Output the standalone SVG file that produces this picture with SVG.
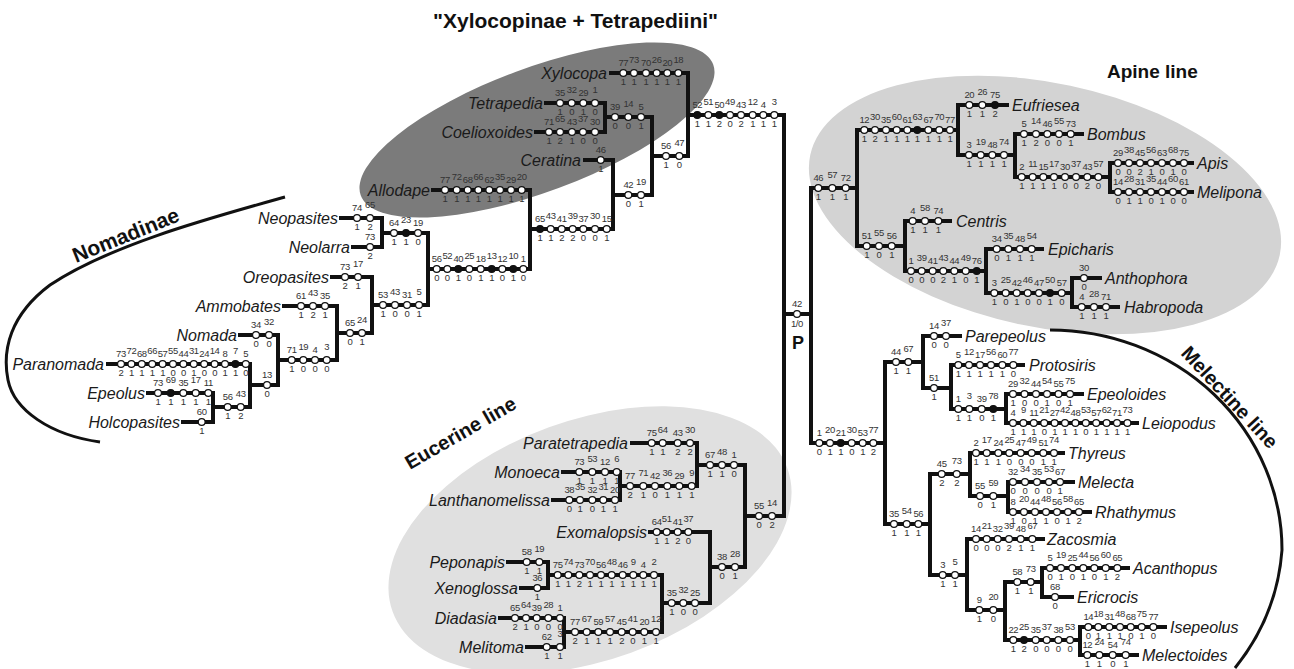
<svg xmlns="http://www.w3.org/2000/svg" width="1294" height="669" viewBox="0 0 1294 669">
<style>
.ln{fill:none;stroke:#111;stroke-width:4;stroke-linecap:square}
.arc{fill:none;stroke:#111;stroke-width:3}
circle{fill:#fff;stroke:#111;stroke-width:1.2}
circle.k{fill:#111}
text{font-family:"Liberation Sans",Arial,sans-serif}
.n{font-size:9.5px;fill:#333;text-anchor:middle;letter-spacing:-0.4px}
.sp{font-size:16px;font-style:italic;fill:#1a1a1a}
.e{text-anchor:end}
.h{font-weight:bold;fill:#111}
</style>
<rect width="1294" height="669" fill="#fff"/>
<g id="groupings">
<ellipse cx="537" cy="130" rx="188" ry="62" transform="rotate(-20.4 537 130)" fill="#7b7b7b"/>
<ellipse cx="1045" cy="205" rx="240" ry="122" transform="rotate(12 1045 205)" fill="#d3d3d3"/>
<ellipse cx="590" cy="540" rx="210" ry="120" transform="rotate(-20 590 540)" fill="#e0e0e0"/>
<path class="arc" d="M285,197 C210,218 110,245 50,285 C10,315 2,350 8,380 C14,410 50,435 100,442"/>
<path class="arc" d="M1050,330 A232,220 0 0 1 1282,550 A232,220 0 0 1 1235,668"/>
<text class="h" x="433" y="28" font-size="21">"Xylocopinae + Tetrapediini"</text>
<text class="h" x="1107" y="78" font-size="19">Apine line</text>
<text class="h" font-size="21" transform="translate(76 263) rotate(-22)">Nomadinae</text>
<text class="h" font-size="20" transform="translate(410 470) rotate(-30)">Eucerine line</text>
<text class="h" font-size="20" transform="translate(1180 354) rotate(47)">Melectine line</text>
</g>
<g id="connectors">
<path class="ln" d="M108 364H250M148 393H213M183 422H213M213 393V422M213 407H250M250 364V407M250 385H278M240 335H278M278 335V385M278 360H337M284 306H337M337 306V360M337 333H372M332 277H372M372 277V333M372 305H428M341 218H382M353 247H382M382 218V247M382 233H428M428 233V305M428 269H530M433 190H530M530 190V269M530 229H613M585 160H613M613 160V229M613 195H652M546 103H605M536 132H605M605 103V132M605 117H652M652 117V195M652 156H688M611 73H688M688 73V156M688 115H784M784 115V516M784 314H811M811 188V443"/>
<path class="ln" d="M632 443H697M563 472H620M553 500H620M620 472V500M620 486H697M697 443V486M697 465H745M650 532H710M508 562H548M521 588H548M548 562V588M548 575H662M500 618H564M527 647H564M564 618V647M564 632H662M662 575V632M662 603H710M710 532V603M710 567H745M745 465V567M745 516H784"/>
<path class="ln" d="M811 188H857M857 130V246M857 130H958M958 105V155M958 105H1007M958 155H1015M1015 134V177M1015 134H1082M1015 177H1110M1110 163V192M1110 163H1192M1110 192H1192M857 246H905M905 221V271M905 221H950M905 271H986M986 249V293M986 249H1042M986 293H1072M1072 278V307M1072 278H1100M1072 307H1118"/>
<path class="ln" d="M811 443H885M885 362V524M885 362H923M923 336V388M923 336H960M923 388H951M951 365V409M951 365H1023M951 409H1006M1006 394V423M1006 394H1082M1006 423H1137M885 524H930M930 474V575M930 474H970M970 453V496M970 453H1063M970 496H1008M1008 482V512M1008 482H1073M1008 512H1090M930 575H967M967 539V610M967 539H1043M967 610H1005M1005 582V640M1005 582H1042M1042 568V597M1042 568H1128M1042 597H1072M1005 640H1080M1080 627V655M1080 627H1165M1080 655H1137"/>
</g>
<g id="t-neopasites"><text class="sp e" x="338" y="224">Neopasites</text><circle cx="357" cy="218" r="3.4"/><circle cx="370" cy="218" r="3.4"/><text class="n" x="357" y="211">74</text><text class="n" x="370" y="208">65</text><text class="n" x="357 370" y="230">12</text></g>
<g id="t-neolarra"><text class="sp e" x="350" y="253">Neolarra</text><circle cx="370" cy="247" r="3.4"/><text class="n" x="370" y="240">73</text><text class="n" x="370" y="259">2</text></g>
<g id="i-64-23-19"><circle cx="394" cy="233" r="3.4"/><circle class="k" cx="406" cy="233" r="3.4"/><circle cx="418" cy="233" r="3.4"/><text class="n" y="226"><tspan x="394">64</tspan><tspan x="418">19</tspan></text><text class="n" x="406" y="223">23</text><text class="n" x="394 406 418" y="245">110</text></g>
<g id="t-oreopasites"><text class="sp e" x="329" y="283">Oreopasites</text><circle cx="345" cy="277" r="3.4"/><circle cx="358" cy="277" r="3.4"/><text class="n" x="345" y="270">73</text><text class="n" x="358" y="267">17</text><text class="n" x="345 358" y="289">21</text></g>
<g id="t-ammobates"><text class="sp e" x="281" y="312">Ammobates</text><circle cx="301" cy="306" r="3.4"/><circle cx="313" cy="306" r="3.4"/><circle cx="325" cy="306" r="3.4"/><text class="n" y="299"><tspan x="301">61</tspan><tspan x="325">35</tspan></text><text class="n" x="313" y="296">43</text><text class="n" x="301 313 325" y="318">121</text></g>
<g id="t-nomada"><text class="sp e" x="237" y="341">Nomada</text><circle cx="256" cy="335" r="3.4"/><circle cx="269" cy="335" r="3.4"/><text class="n" x="256" y="328">34</text><text class="n" x="269" y="325">32</text><text class="n" x="256 269" y="347">00</text></g>
<g id="t-paranomada"><text class="sp e" x="104" y="370">Paranomada</text><circle cx="121" cy="364" r="3.4"/><circle cx="131.4" cy="364" r="3.4"/><circle cx="141.8" cy="364" r="3.4"/><circle cx="152.2" cy="364" r="3.4"/><circle cx="162.6" cy="364" r="3.4"/><circle cx="173" cy="364" r="3.4"/><circle cx="183.4" cy="364" r="3.4"/><circle cx="193.8" cy="364" r="3.4"/><circle cx="204.2" cy="364" r="3.4"/><circle cx="214.6" cy="364" r="3.4"/><circle cx="225" cy="364" r="3.4"/><circle class="k" cx="235.4" cy="364" r="3.4"/><circle cx="245.8" cy="364" r="3.4"/><text class="n" y="357"><tspan x="121">73</tspan><tspan x="141.8">68</tspan><tspan x="162.6">57</tspan><tspan x="183.4">44</tspan><tspan x="204.2">24</tspan><tspan x="225">8</tspan><tspan x="245.8">5</tspan></text><text class="n" y="354"><tspan x="131.4">72</tspan><tspan x="152.2">66</tspan><tspan x="173">55</tspan><tspan x="193.8">31</tspan><tspan x="214.6">14</tspan><tspan x="235.4">7</tspan></text><text class="n" x="121 131.4 141.8 152.2 162.6 173 183.4 193.8 204.2 214.6 225 235.4 245.8" y="376">2111100100110</text></g>
<g id="i-13"><circle cx="267" cy="385" r="3.4"/><text class="n" x="267" y="378">13</text><text class="n" x="267" y="397">0</text></g>
<g id="t-epeolus"><text class="sp e" x="145" y="399">Epeolus</text><circle cx="158" cy="393" r="3.4"/><circle class="k" cx="170.7" cy="393" r="3.4"/><circle cx="183.3" cy="393" r="3.4"/><circle cx="195.7" cy="393" r="3.4"/><circle cx="208.3" cy="393" r="3.4"/><text class="n" y="386"><tspan x="158">73</tspan><tspan x="183.3">35</tspan><tspan x="208.3">11</tspan></text><text class="n" y="383"><tspan x="170.7">69</tspan><tspan x="195.7">17</tspan></text><text class="n" x="158 170.7 183.3 195.7 208.3" y="405">11111</text></g>
<g id="t-holcopasites"><text class="sp e" x="180" y="428">Holcopasites</text><circle cx="201.7" cy="422" r="3.4"/><text class="n" x="201.7" y="415">60</text><text class="n" x="201.7" y="434">1</text></g>
<g id="i-56-43"><circle cx="227.7" cy="407" r="3.4"/><circle cx="240.7" cy="407" r="3.4"/><text class="n" x="227.7" y="400">56</text><text class="n" x="240.7" y="397">43</text><text class="n" x="227.7 240.7" y="419">12</text></g>
<g id="i-71-19-4-3"><circle cx="291.7" cy="360" r="3.4"/><circle cx="303.3" cy="360" r="3.4"/><circle cx="315" cy="360" r="3.4"/><circle cx="326.7" cy="360" r="3.4"/><text class="n" y="353"><tspan x="291.7">71</tspan><tspan x="315">4</tspan></text><text class="n" y="350"><tspan x="303.3">19</tspan><tspan x="326.7">3</tspan></text><text class="n" x="291.7 303.3 315 326.7" y="372">1000</text></g>
<g id="i-65-24"><circle cx="350" cy="333" r="3.4"/><circle cx="362" cy="333" r="3.4"/><text class="n" x="350" y="326">65</text><text class="n" x="362" y="323">24</text><text class="n" x="350 362" y="345">01</text></g>
<g id="i-53-43-31-5"><circle cx="383" cy="305" r="3.4"/><circle cx="395" cy="305" r="3.4"/><circle cx="407" cy="305" r="3.4"/><circle cx="419" cy="305" r="3.4"/><text class="n" y="298"><tspan x="383">53</tspan><tspan x="407">31</tspan></text><text class="n" y="295"><tspan x="395">43</tspan><tspan x="419">5</tspan></text><text class="n" x="383 395 407 419" y="317">1001</text></g>
<g id="i-56-52-40"><circle cx="436.7" cy="269" r="3.4"/><circle cx="447.3" cy="269" r="3.4"/><circle class="k" cx="458.3" cy="269" r="3.4"/><circle cx="469.3" cy="269" r="3.4"/><circle cx="480.7" cy="269" r="3.4"/><circle class="k" cx="491.7" cy="269" r="3.4"/><circle cx="502.3" cy="269" r="3.4"/><circle class="k" cx="513.3" cy="269" r="3.4"/><circle cx="523.3" cy="269" r="3.4"/><text class="n" y="262"><tspan x="436.7">56</tspan><tspan x="458.3">40</tspan><tspan x="480.7">18</tspan><tspan x="502.3">12</tspan><tspan x="523.3">1</tspan></text><text class="n" y="259"><tspan x="447.3">52</tspan><tspan x="469.3">25</tspan><tspan x="491.7">13</tspan><tspan x="513.3">10</tspan></text><text class="n" x="436.7 447.3 458.3 469.3 480.7 491.7 502.3 513.3 523.3" y="281">001011010</text></g>
<g id="t-allodape"><text class="sp e" x="430" y="196">Allodape</text><circle cx="445" cy="190" r="3.4"/><circle cx="456.7" cy="190" r="3.4"/><circle cx="467.7" cy="190" r="3.4"/><circle cx="478.3" cy="190" r="3.4"/><circle cx="489.3" cy="190" r="3.4"/><circle cx="500" cy="190" r="3.4"/><circle cx="511" cy="190" r="3.4"/><circle cx="521.7" cy="190" r="3.4"/><text class="n" y="183"><tspan x="445">77</tspan><tspan x="467.7">68</tspan><tspan x="489.3">62</tspan><tspan x="511">29</tspan></text><text class="n" y="180"><tspan x="456.7">72</tspan><tspan x="478.3">66</tspan><tspan x="500">35</tspan><tspan x="521.7">20</tspan></text><text class="n" x="445 456.7 467.7 478.3 489.3 500 511 521.7" y="202">11111111</text></g>
<g id="i-65-43-41"><circle class="k" cx="540" cy="229" r="3.4"/><circle cx="550.7" cy="229" r="3.4"/><circle cx="561.7" cy="229" r="3.4"/><circle cx="572.7" cy="229" r="3.4"/><circle cx="583.3" cy="229" r="3.4"/><circle cx="595" cy="229" r="3.4"/><circle cx="606.7" cy="229" r="3.4"/><text class="n" y="222"><tspan x="540">65</tspan><tspan x="561.7">41</tspan><tspan x="583.3">37</tspan><tspan x="606.7">15</tspan></text><text class="n" y="219"><tspan x="550.7">43</tspan><tspan x="572.7">39</tspan><tspan x="595">30</tspan></text><text class="n" x="540 550.7 561.7 572.7 583.3 595 606.7" y="241">1122001</text></g>
<g id="t-ceratina"><text class="sp e" x="581" y="166">Ceratina</text><circle cx="600.7" cy="160" r="3.4"/><text class="n" x="600.7" y="153">46</text><text class="n" x="600.7" y="172">1</text></g>
<g id="i-42-19"><circle cx="628.3" cy="195" r="3.4"/><circle cx="641" cy="195" r="3.4"/><text class="n" x="628.3" y="188">42</text><text class="n" x="641" y="185">19</text><text class="n" x="628.3 641" y="207">01</text></g>
<g id="t-tetrapedia"><text class="sp e" x="543" y="109">Tetrapedia</text><circle cx="560" cy="103" r="3.4"/><circle cx="571.7" cy="103" r="3.4"/><circle cx="583.3" cy="103" r="3.4"/><circle cx="595" cy="103" r="3.4"/><text class="n" y="96"><tspan x="560">35</tspan><tspan x="583.3">29</tspan></text><text class="n" y="93"><tspan x="571.7">32</tspan><tspan x="595">1</tspan></text><text class="n" x="560 571.7 583.3 595" y="115">1010</text></g>
<g id="t-coelioxoides"><text class="sp e" x="533" y="138">Coelioxoides</text><circle cx="549" cy="132" r="3.4"/><circle cx="560" cy="132" r="3.4"/><circle cx="572" cy="132" r="3.4"/><circle cx="583" cy="132" r="3.4"/><circle cx="595" cy="132" r="3.4"/><text class="n" y="125"><tspan x="549">71</tspan><tspan x="572">43</tspan><tspan x="595">30</tspan></text><text class="n" y="122"><tspan x="560">65</tspan><tspan x="583">37</tspan></text><text class="n" x="549 560 572 583 595" y="144">12100</text></g>
<g id="i-39-14-5"><circle cx="615" cy="117" r="3.4"/><circle cx="628.3" cy="117" r="3.4"/><circle cx="641" cy="117" r="3.4"/><text class="n" y="110"><tspan x="615">39</tspan><tspan x="641">5</tspan></text><text class="n" x="628.3" y="107">14</text><text class="n" x="615 628.3 641" y="129">001</text></g>
<g id="i-56-47"><circle cx="666" cy="156" r="3.4"/><circle cx="679.3" cy="156" r="3.4"/><text class="n" x="666" y="149">56</text><text class="n" x="679.3" y="146">47</text><text class="n" x="666 679.3" y="168">10</text></g>
<g id="t-xylocopa"><text class="sp e" x="607" y="79">Xylocopa</text><circle cx="623.3" cy="73" r="3.4"/><circle cx="634" cy="73" r="3.4"/><circle cx="646" cy="73" r="3.4"/><circle cx="656.7" cy="73" r="3.4"/><circle cx="667.3" cy="73" r="3.4"/><circle cx="678.3" cy="73" r="3.4"/><text class="n" y="66"><tspan x="623.3">77</tspan><tspan x="646">70</tspan><tspan x="667.3">20</tspan></text><text class="n" y="63"><tspan x="634">73</tspan><tspan x="656.7">26</tspan><tspan x="678.3">18</tspan></text><text class="n" x="623.3 634 646 656.7 667.3 678.3" y="85">111111</text></g>
<g id="i-52-51"><circle class="k" cx="697.3" cy="115" r="3.4"/><circle cx="708.3" cy="115" r="3.4"/><circle class="k" cx="719.3" cy="115" r="3.4"/><circle cx="730" cy="115" r="3.4"/><circle cx="741" cy="115" r="3.4"/><circle cx="752.7" cy="115" r="3.4"/><circle cx="763.3" cy="115" r="3.4"/><circle cx="774.3" cy="115" r="3.4"/><text class="n" y="108"><tspan x="697.3">52</tspan><tspan x="719.3">50</tspan><tspan x="741">43</tspan><tspan x="763.3">4</tspan></text><text class="n" y="105"><tspan x="708.3">51</tspan><tspan x="730">49</tspan><tspan x="752.7">12</tspan><tspan x="774.3">3</tspan></text><text class="n" x="697.3 708.3 719.3 730 741 752.7 763.3 774.3" y="127">11202111</text></g>
<g id="i-root-42"><circle cx="797" cy="314" r="3.4"/><text class="n" x="797" y="307">42</text><text class="n" x="797" y="327">1/0</text><text class="h" x="798" y="349" font-size="18" text-anchor="middle">P</text></g>
<g id="t-paratetrapedia"><text class="sp e" x="628" y="449">Paratetrapedia</text><circle cx="651.7" cy="443" r="3.4"/><circle cx="662.7" cy="443" r="3.4"/><circle cx="677.7" cy="443" r="3.4"/><circle cx="690" cy="443" r="3.4"/><text class="n" y="436"><tspan x="651.7">75</tspan><tspan x="677.7">43</tspan></text><text class="n" y="433"><tspan x="662.7">64</tspan><tspan x="690">30</tspan></text><text class="n" x="651.7 662.7 677.7 690" y="455">1122</text></g>
<g id="t-monoeca"><text class="sp e" x="560" y="478">Monoeca</text><circle cx="579.3" cy="472" r="3.4"/><circle cx="592.3" cy="472" r="3.4"/><circle cx="605" cy="472" r="3.4"/><circle cx="616.7" cy="472" r="3.4"/><text class="n" y="465"><tspan x="579.3">73</tspan><tspan x="605">12</tspan></text><text class="n" y="462"><tspan x="592.3">53</tspan><tspan x="616.7">6</tspan></text><text class="n" x="579.3 592.3 605 616.7" y="484">1111</text></g>
<g id="t-lanthanomelissa"><text class="sp e" x="550" y="506">Lanthanomelissa</text><circle cx="569.3" cy="500" r="3.4"/><circle cx="580" cy="500" r="3.4"/><circle cx="592.3" cy="500" r="3.4"/><circle cx="603.3" cy="500" r="3.4"/><circle cx="615" cy="500" r="3.4"/><text class="n" y="493"><tspan x="569.3">38</tspan><tspan x="592.3">32</tspan><tspan x="615">20</tspan></text><text class="n" y="490"><tspan x="580">35</tspan><tspan x="603.3">31</tspan></text><text class="n" x="569.3 580 592.3 603.3 615" y="512">01011</text></g>
<g id="i-77-71"><circle cx="630" cy="486" r="3.4"/><circle cx="643.3" cy="486" r="3.4"/><circle cx="655" cy="486" r="3.4"/><circle cx="667.3" cy="486" r="3.4"/><circle cx="679.3" cy="486" r="3.4"/><circle cx="691.7" cy="486" r="3.4"/><text class="n" y="479"><tspan x="630">77</tspan><tspan x="655">42</tspan><tspan x="679.3">29</tspan></text><text class="n" y="476"><tspan x="643.3">71</tspan><tspan x="667.3">36</tspan><tspan x="691.7">9</tspan></text><text class="n" x="630 643.3 655 667.3 679.3 691.7" y="498">210111</text></g>
<g id="i-67-48-1"><circle cx="710" cy="465" r="3.4"/><circle cx="722" cy="465" r="3.4"/><circle cx="734" cy="465" r="3.4"/><text class="n" y="458"><tspan x="710">67</tspan><tspan x="734">1</tspan></text><text class="n" x="722" y="455">48</text><text class="n" x="710 722 734" y="477">110</text></g>
<g id="t-exomalopsis"><text class="sp e" x="647" y="538">Exomalopsis</text><circle cx="656.7" cy="532" r="3.4"/><circle cx="666.7" cy="532" r="3.4"/><circle cx="677.7" cy="532" r="3.4"/><circle cx="688.3" cy="532" r="3.4"/><text class="n" y="525"><tspan x="656.7">64</tspan><tspan x="677.7">41</tspan></text><text class="n" y="522"><tspan x="666.7">51</tspan><tspan x="688.3">37</tspan></text><text class="n" x="656.7 666.7 677.7 688.3" y="544">1120</text></g>
<g id="i-38-28"><circle cx="722" cy="567" r="3.4"/><circle cx="735" cy="567" r="3.4"/><text class="n" x="722" y="560">38</text><text class="n" x="735" y="557">28</text><text class="n" x="722 735" y="579">01</text></g>
<g id="i-55-14"><circle cx="759" cy="516" r="3.4"/><circle cx="772" cy="516" r="3.4"/><text class="n" x="759" y="509">55</text><text class="n" x="772" y="506">14</text><text class="n" x="759 772" y="528">02</text></g>
<g id="t-peponapis"><text class="sp e" x="505" y="568">Peponapis</text><circle cx="526.7" cy="562" r="3.4"/><circle cx="539.3" cy="562" r="3.4"/><text class="n" x="526.7" y="555">58</text><text class="n" x="539.3" y="552">19</text><text class="n" x="526.7 539.3" y="574">11</text></g>
<g id="t-xenoglossa"><text class="sp e" x="518" y="594">Xenoglossa</text><circle cx="537.3" cy="588" r="3.4"/><text class="n" x="537.3" y="581">36</text><text class="n" x="537.3" y="600">1</text></g>
<g id="i-75-74"><circle cx="557.7" cy="575" r="3.4"/><circle cx="568.3" cy="575" r="3.4"/><circle cx="579.3" cy="575" r="3.4"/><circle cx="590" cy="575" r="3.4"/><circle cx="601" cy="575" r="3.4"/><circle cx="611.7" cy="575" r="3.4"/><circle cx="622.7" cy="575" r="3.4"/><circle cx="633.3" cy="575" r="3.4"/><circle cx="643.3" cy="575" r="3.4"/><circle cx="654" cy="575" r="3.4"/><text class="n" y="568"><tspan x="557.7">75</tspan><tspan x="579.3">73</tspan><tspan x="601">56</tspan><tspan x="622.7">46</tspan><tspan x="643.3">4</tspan></text><text class="n" y="565"><tspan x="568.3">74</tspan><tspan x="590">70</tspan><tspan x="611.7">48</tspan><tspan x="633.3">9</tspan><tspan x="654">2</tspan></text><text class="n" x="557.7 568.3 579.3 590 601 611.7 622.7 633.3 643.3 654" y="587">1121111111</text></g>
<g id="t-diadasia"><text class="sp e" x="497" y="624">Diadasia</text><circle cx="515" cy="618" r="3.4"/><circle cx="526" cy="618" r="3.4"/><circle cx="536.7" cy="618" r="3.4"/><circle cx="548.3" cy="618" r="3.4"/><circle cx="560" cy="618" r="3.4"/><text class="n" y="611"><tspan x="515">65</tspan><tspan x="536.7">39</tspan><tspan x="560">1</tspan></text><text class="n" y="608"><tspan x="526">64</tspan><tspan x="548.3">28</tspan></text><text class="n" x="515 526 536.7 548.3 560" y="630">21000</text></g>
<g id="t-melitoma"><text class="sp e" x="524" y="653">Melitoma</text><circle cx="546.7" cy="647" r="3.4"/><circle cx="560" cy="647" r="3.4"/><text class="n" x="546.7" y="640">62</text><text class="n" x="560" y="637">3</text><text class="n" x="546.7 560" y="659">11</text></g>
<g id="i-77-67"><circle cx="575" cy="632" r="3.4"/><circle cx="586.7" cy="632" r="3.4"/><circle cx="598.3" cy="632" r="3.4"/><circle cx="610" cy="632" r="3.4"/><circle cx="621.7" cy="632" r="3.4"/><circle cx="632.7" cy="632" r="3.4"/><circle cx="644.3" cy="632" r="3.4"/><circle cx="656" cy="632" r="3.4"/><text class="n" y="625"><tspan x="575">77</tspan><tspan x="598.3">59</tspan><tspan x="621.7">45</tspan><tspan x="644.3">20</tspan></text><text class="n" y="622"><tspan x="586.7">67</tspan><tspan x="610">57</tspan><tspan x="632.7">41</tspan><tspan x="656">12</tspan></text><text class="n" x="575 586.7 598.3 610 621.7 632.7 644.3 656" y="644">21112011</text></g>
<g id="i-35-32-25"><circle cx="671.7" cy="603" r="3.4"/><circle cx="683.3" cy="603" r="3.4"/><circle cx="695" cy="603" r="3.4"/><text class="n" y="596"><tspan x="671.7">35</tspan><tspan x="695">25</tspan></text><text class="n" x="683.3" y="593">32</text><text class="n" x="671.7 683.3 695" y="615">100</text></g>
<g id="i-46-57-72"><circle cx="818.3" cy="188" r="3.4"/><circle cx="832.3" cy="188" r="3.4"/><circle cx="845.7" cy="188" r="3.4"/><text class="n" y="181"><tspan x="818.3">46</tspan><tspan x="845.7">72</tspan></text><text class="n" x="832.3" y="178">57</text><text class="n" x="818.3 832.3 845.7" y="200">111</text></g>
<g id="i-12-30"><circle cx="864.3" cy="130" r="3.4"/><circle cx="875" cy="130" r="3.4"/><circle cx="886" cy="130" r="3.4"/><circle cx="896.7" cy="130" r="3.4"/><circle cx="907.3" cy="130" r="3.4"/><circle class="k" cx="917.3" cy="130" r="3.4"/><circle cx="928.3" cy="130" r="3.4"/><circle cx="939.3" cy="130" r="3.4"/><circle cx="950" cy="130" r="3.4"/><text class="n" y="123"><tspan x="864.3">12</tspan><tspan x="886">35</tspan><tspan x="907.3">61</tspan><tspan x="928.3">67</tspan><tspan x="950">77</tspan></text><text class="n" y="120"><tspan x="875">30</tspan><tspan x="896.7">60</tspan><tspan x="917.3">63</tspan><tspan x="939.3">70</tspan></text><text class="n" x="864.3 875 886 896.7 907.3 917.3 928.3 939.3 950" y="142">121111111</text></g>
<g id="t-eufriesea"><text class="sp" x="1012" y="111">Eufriesea</text><circle cx="969.3" cy="105" r="3.4"/><circle cx="982.3" cy="105" r="3.4"/><circle class="k" cx="995" cy="105" r="3.4"/><text class="n" y="98"><tspan x="969.3">20</tspan><tspan x="995">75</tspan></text><text class="n" x="982.3" y="95">26</text><text class="n" x="969.3 982.3 995" y="117">112</text></g>
<g id="i-3-19-48-74"><circle cx="969" cy="155" r="3.4"/><circle cx="980.7" cy="155" r="3.4"/><circle cx="992.3" cy="155" r="3.4"/><circle cx="1004" cy="155" r="3.4"/><text class="n" y="148"><tspan x="969">3</tspan><tspan x="992.3">48</tspan></text><text class="n" y="145"><tspan x="980.7">19</tspan><tspan x="1004">74</tspan></text><text class="n" x="969 980.7 992.3 1004" y="167">1111</text></g>
<g id="t-bombus"><text class="sp" x="1087" y="140">Bombus</text><circle cx="1024" cy="134" r="3.4"/><circle cx="1036" cy="134" r="3.4"/><circle cx="1047.3" cy="134" r="3.4"/><circle cx="1059" cy="134" r="3.4"/><circle cx="1070.7" cy="134" r="3.4"/><text class="n" y="127"><tspan x="1024">5</tspan><tspan x="1047.3">46</tspan><tspan x="1070.7">73</tspan></text><text class="n" y="124"><tspan x="1036">14</tspan><tspan x="1059">55</tspan></text><text class="n" x="1024 1036 1047.3 1059 1070.7" y="146">12001</text></g>
<g id="i-2-11"><circle cx="1021.7" cy="177" r="3.4"/><circle cx="1032.7" cy="177" r="3.4"/><circle cx="1043.3" cy="177" r="3.4"/><circle cx="1054" cy="177" r="3.4"/><circle cx="1065" cy="177" r="3.4"/><circle cx="1076" cy="177" r="3.4"/><circle cx="1087.3" cy="177" r="3.4"/><circle cx="1098.3" cy="177" r="3.4"/><text class="n" y="170"><tspan x="1021.7">2</tspan><tspan x="1043.3">15</tspan><tspan x="1065">30</tspan><tspan x="1087.3">43</tspan></text><text class="n" y="167"><tspan x="1032.7">11</tspan><tspan x="1054">17</tspan><tspan x="1076">37</tspan><tspan x="1098.3">57</tspan></text><text class="n" x="1021.7 1032.7 1043.3 1054 1065 1076 1087.3 1098.3" y="189">11110020</text></g>
<g id="t-apis"><text class="sp" x="1197" y="169">Apis</text><circle cx="1118" cy="163" r="3.4"/><circle cx="1129" cy="163" r="3.4"/><circle cx="1140" cy="163" r="3.4"/><circle cx="1151" cy="163" r="3.4"/><circle cx="1162" cy="163" r="3.4"/><circle cx="1173" cy="163" r="3.4"/><circle cx="1184" cy="163" r="3.4"/><text class="n" y="156"><tspan x="1118">29</tspan><tspan x="1140">45</tspan><tspan x="1162">63</tspan><tspan x="1184">75</tspan></text><text class="n" y="153"><tspan x="1129">38</tspan><tspan x="1151">56</tspan><tspan x="1173">68</tspan></text><text class="n" x="1118 1129 1140 1151 1162 1173 1184" y="175">0021010</text></g>
<g id="t-melipona"><text class="sp" x="1197" y="198">Melipona</text><circle cx="1118" cy="192" r="3.4"/><circle cx="1129" cy="192" r="3.4"/><circle cx="1140" cy="192" r="3.4"/><circle cx="1151" cy="192" r="3.4"/><circle cx="1162" cy="192" r="3.4"/><circle cx="1173" cy="192" r="3.4"/><circle cx="1184" cy="192" r="3.4"/><text class="n" y="185"><tspan x="1118">14</tspan><tspan x="1140">31</tspan><tspan x="1162">44</tspan><tspan x="1184">61</tspan></text><text class="n" y="182"><tspan x="1129">28</tspan><tspan x="1151">35</tspan><tspan x="1173">60</tspan></text><text class="n" x="1118 1129 1140 1151 1162 1173 1184" y="204">0110100</text></g>
<g id="i-51-55-56"><circle cx="866.7" cy="246" r="3.4"/><circle cx="879" cy="246" r="3.4"/><circle cx="891.7" cy="246" r="3.4"/><text class="n" y="239"><tspan x="866.7">51</tspan><tspan x="891.7">56</tspan></text><text class="n" x="879" y="236">55</text><text class="n" x="866.7 879 891.7" y="258">101</text></g>
<g id="t-centris"><text class="sp" x="956" y="227">Centris</text><circle cx="912.7" cy="221" r="3.4"/><circle cx="925" cy="221" r="3.4"/><circle cx="938.3" cy="221" r="3.4"/><text class="n" y="214"><tspan x="912.7">4</tspan><tspan x="938.3">74</tspan></text><text class="n" x="925" y="211">58</text><text class="n" x="912.7 925 938.3" y="233">111</text></g>
<g id="i-1-39"><circle cx="911" cy="271" r="3.4"/><circle cx="921.7" cy="271" r="3.4"/><circle cx="932.7" cy="271" r="3.4"/><circle cx="943.3" cy="271" r="3.4"/><circle cx="954.3" cy="271" r="3.4"/><circle cx="965.7" cy="271" r="3.4"/><circle class="k" cx="976.7" cy="271" r="3.4"/><text class="n" y="264"><tspan x="911">1</tspan><tspan x="932.7">41</tspan><tspan x="954.3">44</tspan><tspan x="976.7">76</tspan></text><text class="n" y="261"><tspan x="921.7">39</tspan><tspan x="943.3">43</tspan><tspan x="965.7">49</tspan></text><text class="n" x="911 921.7 932.7 943.3 954.3 965.7 976.7" y="283">0002101</text></g>
<g id="t-epicharis"><text class="sp" x="1048" y="255">Epicharis</text><circle cx="996.7" cy="249" r="3.4"/><circle cx="1008.3" cy="249" r="3.4"/><circle cx="1020" cy="249" r="3.4"/><circle cx="1031.7" cy="249" r="3.4"/><text class="n" y="242"><tspan x="996.7">34</tspan><tspan x="1020">48</tspan></text><text class="n" y="239"><tspan x="1008.3">35</tspan><tspan x="1031.7">54</tspan></text><text class="n" x="996.7 1008.3 1020 1031.7" y="261">0111</text></g>
<g id="i-3-25"><circle cx="994.3" cy="293" r="3.4"/><circle cx="1005.7" cy="293" r="3.4"/><circle cx="1016.7" cy="293" r="3.4"/><circle cx="1027.7" cy="293" r="3.4"/><circle cx="1039" cy="293" r="3.4"/><circle class="k" cx="1050" cy="293" r="3.4"/><circle cx="1061.7" cy="293" r="3.4"/><text class="n" y="286"><tspan x="994.3">3</tspan><tspan x="1016.7">42</tspan><tspan x="1039">47</tspan><tspan x="1061.7">57</tspan></text><text class="n" y="283"><tspan x="1005.7">25</tspan><tspan x="1027.7">46</tspan><tspan x="1050">50</tspan></text><text class="n" x="994.3 1005.7 1016.7 1027.7 1039 1050 1061.7" y="305">1010010</text></g>
<g id="t-anthophora"><text class="sp" x="1105" y="284">Anthophora</text><circle cx="1084" cy="278" r="3.4"/><text class="n" x="1084" y="271">30</text><text class="n" x="1084" y="290">0</text></g>
<g id="t-habropoda"><text class="sp" x="1124" y="313">Habropoda</text><circle cx="1081.7" cy="307" r="3.4"/><circle cx="1094" cy="307" r="3.4"/><circle cx="1106" cy="307" r="3.4"/><text class="n" y="300"><tspan x="1081.7">4</tspan><tspan x="1106">71</tspan></text><text class="n" x="1094" y="297">28</text><text class="n" x="1081.7 1094 1106" y="319">111</text></g>
<g id="i-1-20-21"><circle cx="819.3" cy="443" r="3.4"/><circle cx="830" cy="443" r="3.4"/><circle class="k" cx="840.7" cy="443" r="3.4"/><circle cx="851.7" cy="443" r="3.4"/><circle cx="862.7" cy="443" r="3.4"/><circle cx="873.3" cy="443" r="3.4"/><text class="n" y="436"><tspan x="819.3">1</tspan><tspan x="840.7">21</tspan><tspan x="862.7">53</tspan></text><text class="n" y="433"><tspan x="830">20</tspan><tspan x="851.7">30</tspan><tspan x="873.3">77</tspan></text><text class="n" x="819.3 830 840.7 851.7 862.7 873.3" y="455">011012</text></g>
<g id="i-44-67"><circle cx="896" cy="362" r="3.4"/><circle cx="908.3" cy="362" r="3.4"/><text class="n" x="896" y="355">44</text><text class="n" x="908.3" y="352">67</text><text class="n" x="896 908.3" y="374">11</text></g>
<g id="t-parepeolus"><text class="sp" x="965" y="342">Parepeolus</text><circle cx="934" cy="336" r="3.4"/><circle cx="946" cy="336" r="3.4"/><text class="n" x="934" y="329">14</text><text class="n" x="946" y="326">37</text><text class="n" x="934 946" y="348">00</text></g>
<g id="i-51"><circle cx="934" cy="388" r="3.4"/><text class="n" x="934" y="381">51</text><text class="n" x="934" y="400">1</text></g>
<g id="t-protosiris"><text class="sp" x="1029" y="371">Protosiris</text><circle cx="958.3" cy="365" r="3.4"/><circle cx="969" cy="365" r="3.4"/><circle cx="980" cy="365" r="3.4"/><circle cx="991" cy="365" r="3.4"/><circle cx="1002.3" cy="365" r="3.4"/><circle cx="1013.3" cy="365" r="3.4"/><text class="n" y="358"><tspan x="958.3">5</tspan><tspan x="980">17</tspan><tspan x="1002.3">60</tspan></text><text class="n" y="355"><tspan x="969">12</tspan><tspan x="991">56</tspan><tspan x="1013.3">77</tspan></text><text class="n" x="958.3 969 980 991 1002.3 1013.3" y="377">111110</text></g>
<g id="i-1-3-39-78"><circle cx="958.3" cy="409" r="3.4"/><circle cx="969.3" cy="409" r="3.4"/><circle cx="981.7" cy="409" r="3.4"/><circle class="k" cx="993.3" cy="409" r="3.4"/><text class="n" y="402"><tspan x="958.3">1</tspan><tspan x="981.7">39</tspan></text><text class="n" y="399"><tspan x="969.3">3</tspan><tspan x="993.3">78</tspan></text><text class="n" x="958.3 969.3 981.7 993.3" y="421">1101</text></g>
<g id="t-epeoloides"><text class="sp" x="1087" y="400">Epeoloides</text><circle cx="1013" cy="394" r="3.4"/><circle cx="1024.5" cy="394" r="3.4"/><circle cx="1036" cy="394" r="3.4"/><circle cx="1047" cy="394" r="3.4"/><circle cx="1058.5" cy="394" r="3.4"/><circle cx="1070" cy="394" r="3.4"/><text class="n" y="387"><tspan x="1013">29</tspan><tspan x="1036">44</tspan><tspan x="1058.5">55</tspan></text><text class="n" y="384"><tspan x="1024.5">32</tspan><tspan x="1047">54</tspan><tspan x="1070">75</tspan></text><text class="n" x="1013 1024.5 1036 1047 1058.5 1070" y="406">100101</text></g>
<g id="t-leiopodus"><text class="sp" x="1142" y="429">Leiopodus</text><circle cx="1013" cy="423" r="3.4"/><circle cx="1023.4" cy="423" r="3.4"/><circle cx="1033.8" cy="423" r="3.4"/><circle cx="1044.2" cy="423" r="3.4"/><circle cx="1054.6" cy="423" r="3.4"/><circle cx="1065" cy="423" r="3.4"/><circle cx="1075.4" cy="423" r="3.4"/><circle cx="1085.8" cy="423" r="3.4"/><circle cx="1096.2" cy="423" r="3.4"/><circle cx="1106.6" cy="423" r="3.4"/><circle cx="1117" cy="423" r="3.4"/><circle cx="1127.4" cy="423" r="3.4"/><text class="n" y="416"><tspan x="1013">4</tspan><tspan x="1033.8">11</tspan><tspan x="1054.6">27</tspan><tspan x="1075.4">48</tspan><tspan x="1096.2">57</tspan><tspan x="1117">71</tspan></text><text class="n" y="413"><tspan x="1023.4">9</tspan><tspan x="1044.2">21</tspan><tspan x="1065">42</tspan><tspan x="1085.8">53</tspan><tspan x="1106.6">62</tspan><tspan x="1127.4">73</tspan></text><text class="n" x="1013 1023.4 1033.8 1044.2 1054.6 1065 1075.4 1085.8 1096.2 1106.6 1117 1127.4" y="435">111011101111</text></g>
<g id="i-35-54-56"><circle cx="894" cy="524" r="3.4"/><circle cx="906.7" cy="524" r="3.4"/><circle cx="918.3" cy="524" r="3.4"/><text class="n" y="517"><tspan x="894">35</tspan><tspan x="918.3">56</tspan></text><text class="n" x="906.7" y="514">54</text><text class="n" x="894 906.7 918.3" y="536">111</text></g>
<g id="i-45-73"><circle cx="941.7" cy="474" r="3.4"/><circle cx="956.7" cy="474" r="3.4"/><text class="n" x="941.7" y="467">45</text><text class="n" x="956.7" y="464">73</text><text class="n" x="941.7 956.7" y="486">22</text></g>
<g id="t-thyreus"><text class="sp" x="1068" y="459">Thyreus</text><circle cx="976" cy="453" r="3.4"/><circle cx="986.7" cy="453" r="3.4"/><circle cx="998.3" cy="453" r="3.4"/><circle cx="1009.3" cy="453" r="3.4"/><circle cx="1020.7" cy="453" r="3.4"/><circle cx="1031.7" cy="453" r="3.4"/><circle cx="1043.3" cy="453" r="3.4"/><circle cx="1054" cy="453" r="3.4"/><text class="n" y="446"><tspan x="976">2</tspan><tspan x="998.3">24</tspan><tspan x="1020.7">47</tspan><tspan x="1043.3">51</tspan></text><text class="n" y="443"><tspan x="986.7">17</tspan><tspan x="1009.3">25</tspan><tspan x="1031.7">49</tspan><tspan x="1054">74</tspan></text><text class="n" x="976 986.7 998.3 1009.3 1020.7 1031.7 1043.3 1054" y="465">11100011</text></g>
<g id="i-55-59"><circle cx="980" cy="496" r="3.4"/><circle cx="993.3" cy="496" r="3.4"/><text class="n" x="980" y="489">55</text><text class="n" x="993.3" y="486">59</text><text class="n" x="980 993.3" y="508">01</text></g>
<g id="t-melecta"><text class="sp" x="1078" y="488">Melecta</text><circle cx="1013" cy="482" r="3.4"/><circle cx="1025" cy="482" r="3.4"/><circle cx="1037" cy="482" r="3.4"/><circle cx="1049" cy="482" r="3.4"/><circle cx="1060" cy="482" r="3.4"/><text class="n" y="475"><tspan x="1013">32</tspan><tspan x="1037">35</tspan><tspan x="1060">67</tspan></text><text class="n" y="472"><tspan x="1025">34</tspan><tspan x="1049">53</tspan></text><text class="n" x="1013 1025 1037 1049 1060" y="494">00001</text></g>
<g id="t-rhathymus"><text class="sp" x="1095" y="518">Rhathymus</text><circle cx="1013" cy="512" r="3.4"/><circle cx="1024" cy="512" r="3.4"/><circle cx="1035" cy="512" r="3.4"/><circle cx="1046" cy="512" r="3.4"/><circle cx="1057" cy="512" r="3.4"/><circle cx="1068" cy="512" r="3.4"/><circle cx="1079" cy="512" r="3.4"/><text class="n" y="505"><tspan x="1013">8</tspan><tspan x="1035">44</tspan><tspan x="1057">56</tspan><tspan x="1079">65</tspan></text><text class="n" y="502"><tspan x="1024">20</tspan><tspan x="1046">48</tspan><tspan x="1068">58</tspan></text><text class="n" x="1013 1024 1035 1046 1057 1068 1079" y="524">1011012</text></g>
<g id="i-3-5"><circle cx="942.7" cy="575" r="3.4"/><circle cx="955" cy="575" r="3.4"/><text class="n" x="942.7" y="568">3</text><text class="n" x="955" y="565">5</text><text class="n" x="942.7 955" y="587">11</text></g>
<g id="t-zacosmia"><text class="sp" x="1047" y="545">Zacosmia</text><circle cx="976" cy="539" r="3.4"/><circle cx="986.7" cy="539" r="3.4"/><circle cx="997.7" cy="539" r="3.4"/><circle cx="1009" cy="539" r="3.4"/><circle cx="1020.7" cy="539" r="3.4"/><circle cx="1032.3" cy="539" r="3.4"/><text class="n" y="532"><tspan x="976">14</tspan><tspan x="997.7">32</tspan><tspan x="1020.7">48</tspan></text><text class="n" y="529"><tspan x="986.7">21</tspan><tspan x="1009">39</tspan><tspan x="1032.3">67</tspan></text><text class="n" x="976 986.7 997.7 1009 1020.7 1032.3" y="551">000211</text></g>
<g id="i-9-20"><circle cx="979.3" cy="610" r="3.4"/><circle cx="993.3" cy="610" r="3.4"/><text class="n" x="979.3" y="603">9</text><text class="n" x="993.3" y="600">20</text><text class="n" x="979.3 993.3" y="622">10</text></g>
<g id="i-58-73"><circle cx="1017.3" cy="582" r="3.4"/><circle cx="1030.7" cy="582" r="3.4"/><text class="n" x="1017.3" y="575">58</text><text class="n" x="1030.7" y="572">73</text><text class="n" x="1017.3 1030.7" y="594">11</text></g>
<g id="t-acanthopus"><text class="sp" x="1133" y="574">Acanthopus</text><circle cx="1050" cy="568" r="3.4"/><circle cx="1061" cy="568" r="3.4"/><circle cx="1072.3" cy="568" r="3.4"/><circle cx="1083.3" cy="568" r="3.4"/><circle cx="1094.3" cy="568" r="3.4"/><circle cx="1105.7" cy="568" r="3.4"/><circle cx="1117.3" cy="568" r="3.4"/><text class="n" y="561"><tspan x="1050">5</tspan><tspan x="1072.3">25</tspan><tspan x="1094.3">56</tspan><tspan x="1117.3">65</tspan></text><text class="n" y="558"><tspan x="1061">19</tspan><tspan x="1083.3">44</tspan><tspan x="1105.7">60</tspan></text><text class="n" x="1050 1061 1072.3 1083.3 1094.3 1105.7 1117.3" y="580">0101012</text></g>
<g id="t-ericrocis"><text class="sp" x="1077" y="603">Ericrocis</text><circle cx="1055" cy="597" r="3.4"/><text class="n" x="1055" y="590">68</text><text class="n" x="1055" y="609">0</text></g>
<g id="i-22-25"><circle cx="1013.3" cy="640" r="3.4"/><circle class="k" cx="1024" cy="640" r="3.4"/><circle cx="1035.7" cy="640" r="3.4"/><circle cx="1046.7" cy="640" r="3.4"/><circle cx="1058.3" cy="640" r="3.4"/><circle cx="1070" cy="640" r="3.4"/><text class="n" y="633"><tspan x="1013.3">22</tspan><tspan x="1035.7">35</tspan><tspan x="1058.3">38</tspan></text><text class="n" y="630"><tspan x="1024">25</tspan><tspan x="1046.7">37</tspan><tspan x="1070">53</tspan></text><text class="n" x="1013.3 1024 1035.7 1046.7 1058.3 1070" y="652">120000</text></g>
<g id="t-isepeolus"><text class="sp" x="1170" y="633">Isepeolus</text><circle cx="1088.3" cy="627" r="3.4"/><circle cx="1098.3" cy="627" r="3.4"/><circle cx="1109.3" cy="627" r="3.4"/><circle cx="1120" cy="627" r="3.4"/><circle cx="1130.7" cy="627" r="3.4"/><circle cx="1141.7" cy="627" r="3.4"/><circle cx="1153.3" cy="627" r="3.4"/><text class="n" y="620"><tspan x="1088.3">14</tspan><tspan x="1109.3">31</tspan><tspan x="1130.7">68</tspan><tspan x="1153.3">77</tspan></text><text class="n" y="617"><tspan x="1098.3">18</tspan><tspan x="1120">48</tspan><tspan x="1141.7">75</tspan></text><text class="n" x="1088.3 1098.3 1109.3 1120 1130.7 1141.7 1153.3" y="639">0111010</text></g>
<g id="t-melectoides"><text class="sp" x="1142" y="661">Melectoides</text><circle cx="1087.3" cy="655" r="3.4"/><circle cx="1099.3" cy="655" r="3.4"/><circle cx="1112.7" cy="655" r="3.4"/><circle cx="1125.7" cy="655" r="3.4"/><text class="n" y="648"><tspan x="1087.3">12</tspan><tspan x="1112.7">54</tspan></text><text class="n" y="645"><tspan x="1099.3">24</tspan><tspan x="1125.7">74</tspan></text><text class="n" x="1087.3 1099.3 1112.7 1125.7" y="667">1101</text></g>
</svg>
